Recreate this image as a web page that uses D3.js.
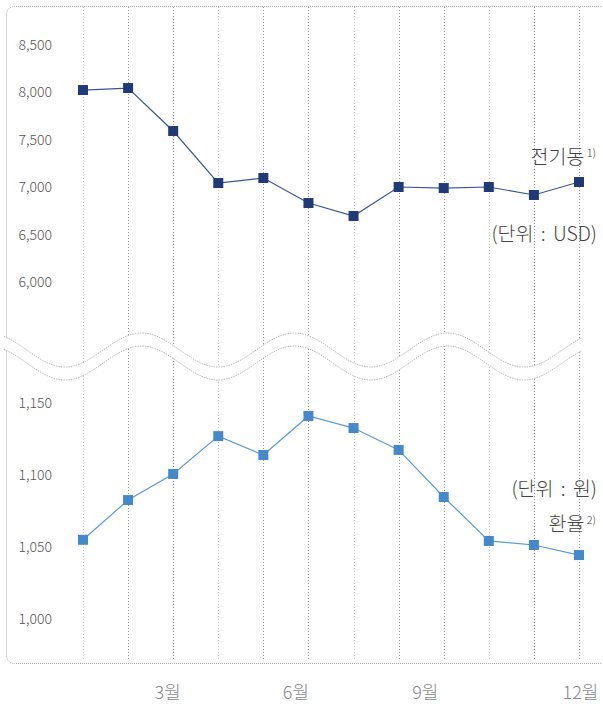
<!DOCTYPE html>
<html>
<head>
<meta charset="utf-8">
<title>전기동 / 환율</title>
<script src="https://d3js.org/d3.v7.min.js"></script>
<style>
  body { margin: 0; background: #fff; }
  svg { font-family: 'Noto Sans CJK KR', 'Noto Sans', sans-serif; font-weight: 300; }
  .tick text { fill: #555; }
</style>
</head>
<body>
<div id="chart"></div>
<script>
// ---------- data ----------
var months = [1, 2, 3, 4, 5, 6, 7, 8, 9, 10, 11, 12];
var copper = [8025, 8046, 7593, 7044, 7097, 6833, 6696, 7002, 6991, 7002, 6918, 7055];  // 전기동 (USD)
var fx = [1055, 1082.6, 1100.7, 1127, 1113.9, 1141, 1132.6, 1117.4, 1084.7, 1054.2, 1051.4, 1044.4]; // 환율 (원)
var copperTicks = [6000, 6500, 7000, 7500, 8000, 8500];
var fxTicks = [1000, 1050, 1100, 1150];
var monthTicks = [3, 6, 9, 12];

var width = 603, height = 704;

var svg = d3.select("#chart").append("svg")
  .attr("width", width)
  .attr("height", height);

var x = d3.scaleLinear().domain([1, 12]).range([83, 579]);
var yTop = d3.scaleLinear().domain([6000, 8500]).range([282, 45]);
var yBot = d3.scaleLinear().domain([1000, 1150]).range([619, 403]);

var frameColor = "#aaa";

// frame: top, left (rounded corners), bottom. right side open
var L = 6.5, T = 6.5, R = 601, B = 663.5, rr = 9;
svg.append("path")
  .attr("d", "M" + R + "," + T + " L" + (L + rr) + "," + T +
             " Q" + L + "," + T + " " + L + "," + (T + rr) +
             " L" + L + "," + (B - rr) +
             " Q" + L + "," + B + " " + (L + rr) + "," + B +
             " L" + R + "," + B)
  .attr("fill", "none")
  .attr("stroke", frameColor)
  .attr("stroke-width", 1)
  .attr("stroke-dasharray", "1,1");

// vertical grid
svg.append("g").selectAll("line")
  .data(months).enter().append("line")
  .attr("x1", function(d) { return Math.round(x(d)) + 0.5; })
  .attr("x2", function(d) { return Math.round(x(d)) + 0.5; })
  .attr("y1", 7)
  .attr("y2", 659)
  .attr("stroke", function(d, i) { return i % 3 == 0 ? "#c4c4c4" : "#999"; })
  .attr("stroke-width", 1)
  .attr("stroke-dasharray", "1,2");

// ---------- axis break (waves) ----------
var period = 153, amp = 17;
function wave(cy) {
  return function(px) { return cy + amp * Math.cos(2 * Math.PI * (px - 65) / period); };
}
var w1 = wave(350), w2 = wave(363);
var xs = d3.range(4, 582.5, 1);
var line = d3.line().curve(d3.curveBasis);

var band = xs.map(function(p) { return [p, w1(p)]; })
  .concat(xs.slice().reverse().map(function(p) { return [p, w2(p)]; }));
svg.append("path")
  .attr("d", d3.line()(band) + "Z")
  .attr("fill", "#fff");

[w1, w2].forEach(function(f) {
  svg.append("path")
    .attr("d", line(xs.map(function(p) { return [p, f(p)]; })))
    .attr("fill", "none")
    .attr("stroke", "#bbb")
    .attr("stroke-width", 1)
    .attr("stroke-dasharray", "1.5,1");
});

// ---------- y axes ----------
function leftAxis(scale, ticks) {
  var g = svg.append("g")
    .attr("transform", "translate(52,0)")
    .call(d3.axisLeft(scale).tickValues(ticks).tickSize(0).tickPadding(0).tickFormat(d3.format(",")));
  g.select(".domain").remove();
  g.selectAll("text").style("font-size", "14px").style("font-family", "'Noto Sans CJK KR', sans-serif");
}
leftAxis(yTop, copperTicks);
leftAxis(yBot, fxTicks);

// x labels
var xg = svg.append("g")
  .attr("transform", "translate(0,699)")
  .call(d3.axisBottom(x).tickValues(monthTicks).tickSize(0).tickPadding(0)
    .tickFormat(function(d) { return d + "월"; }));
xg.select(".domain").remove();
xg.selectAll("text")
  .attr("dy", 0)
  .attr("dx", function(d) { return d == 3 ? -6 : d == 6 ? -13 : d == 9 ? -19 : 1; })
  .style("font-size", "18px")
  .style("font-family", "'Noto Sans CJK KR', sans-serif")
  .style("fill", "#888");

// ---------- series ----------
function series(values, y, lineColor, markColor) {
  var pts = months.map(function(m, i) { return [x(m), y(values[i])]; });
  svg.append("path")
    .attr("d", d3.line()(pts))
    .attr("fill", "none")
    .attr("stroke", lineColor)
    .attr("stroke-width", 1.2);
  svg.append("g").selectAll("rect")
    .data(pts).enter().append("rect")
    .attr("x", function(d) { return d[0] - 5; })
    .attr("y", function(d) { return d[1] - 5; })
    .attr("width", 10)
    .attr("height", 10)
    .attr("fill", markColor);
}
series(copper, yTop, "#3b5592", "#1f3a76");
series(fx, yBot, "#5b9ad6", "#4589cb");

// ---------- labels ----------
function label(txt, sup, xr, yb) {
  var t = svg.append("text")
    .attr("x", xr).attr("y", yb)
    .attr("text-anchor", "end")
    .style("font-size", "19.5px")
    .style("word-spacing", "3px")
    .style("fill", "#444");
  t.append("tspan").text(txt);
  if (sup) {
    t.append("tspan").text("\u2009" + sup)
      .attr("dy", -7)
      .style("font-size", "11px");
  }
}
label("전기동", "1)", 596, 164);
label("(단위 : USD)", null, 597, 241);
label("(단위 : 원)", null, 597, 496);
label("환율", "2)", 596, 531);
</script>
</body>
</html>
